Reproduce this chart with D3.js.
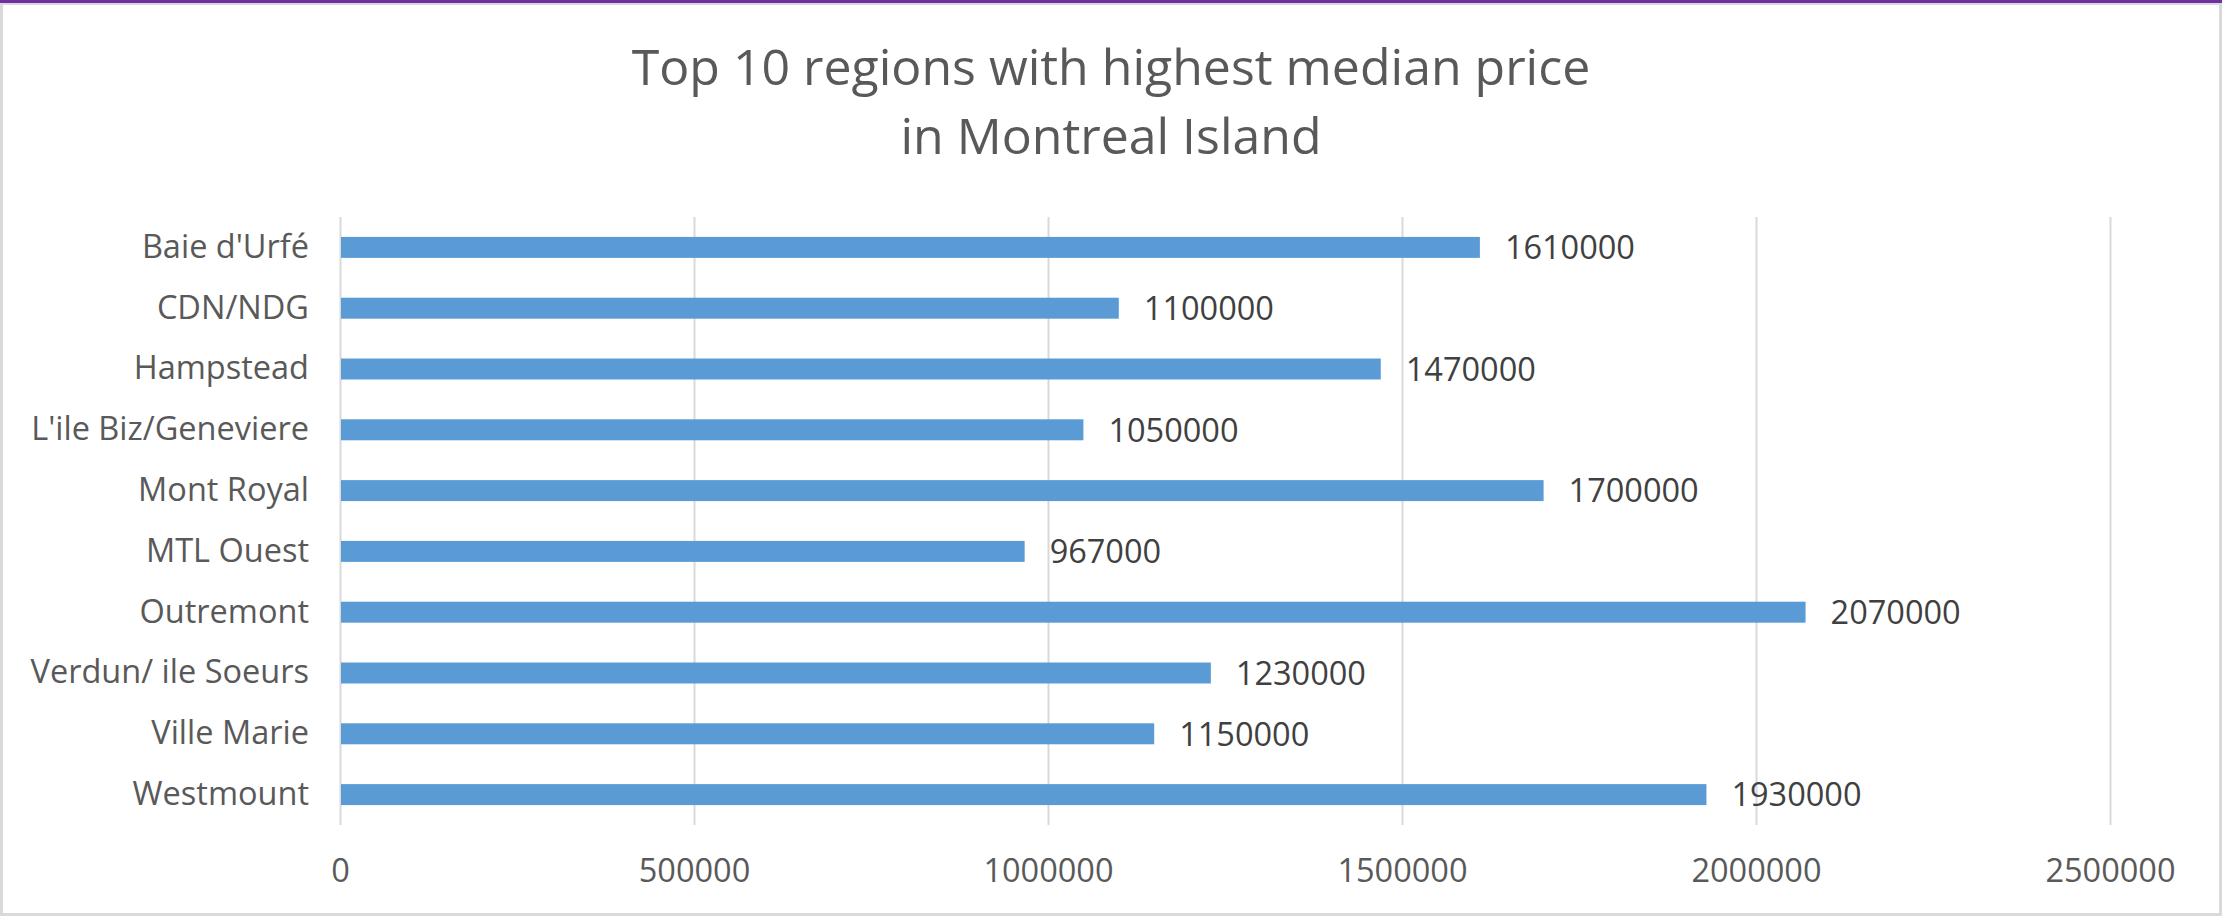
<!DOCTYPE html>
<html>
<head>
<meta charset="utf-8">
<script src="https://cdn.jsdelivr.net/npm/d3@7"></script>
<style>
  html, body { margin: 0; padding: 0; background: #ffffff; }
  svg { display: block; }
  text { font-family: "Open Sans", "Noto Sans", sans-serif; }
</style>
</head>
<body>
<svg id="chart" width="2222" height="916"></svg>
<script>
const categories = ["Baie d'Urfé", "CDN/NDG", "Hampstead", "L'ile Biz/Geneviere", "Mont Royal",
  "MTL Ouest", "Outremont", "Verdun/ ile Soeurs", "Ville Marie", "Westmount"];
const medianPrice = [1610000, 1100000, 1470000, 1050000, 1700000, 967000, 2070000, 1230000, 1150000, 1930000];
const xTicks = [0, 500000, 1000000, 1500000, 2000000, 2500000];
const titleLines = ["Top 10 regions with highest median price", "in Montreal Island"];

const W = 2222, H = 916;
const svg = d3.select("#chart");

// chart frame
svg.append("rect").attr("x", 1.5).attr("y", 3.5).attr("width", W - 3).attr("height", H - 5)
  .attr("fill", "#ffffff").attr("stroke", "#d9d9d9").attr("stroke-width", 3);
svg.append("rect").attr("x", 0).attr("y", 0).attr("width", W).attr("height", 3).attr("fill", "#7030a0");

const plot = { left: 340, right: 2110, top: 217, bottom: 825 };

const x = d3.scaleLinear().domain([0, 2500000]).range([plot.left, plot.right]);
const y = d3.scaleBand().domain(categories).range([plot.top, plot.bottom])
  .paddingInner(0.655).paddingOuter(0.3275);

// x axis with gridlines
const xAxis = d3.axisBottom(x).tickValues(xTicks).tickFormat(d3.format("d"))
  .tickSizeInner(-(plot.bottom - plot.top)).tickSizeOuter(0).tickPadding(34);
const gx = svg.append("g").attr("transform", `translate(0,${plot.bottom})`).call(xAxis);
gx.select(".domain").remove();
gx.selectAll(".tick line").attr("stroke", "#d9d9d9").attr("stroke-width", 2);
gx.selectAll(".tick text").attr("fill", "#595959").attr("font-size", 32.5)
  .attr("font-family", "'Open Sans', sans-serif");

// y axis labels
const yAxis = d3.axisLeft(y).tickSize(0).tickPadding(31);
const gy = svg.append("g").attr("transform", `translate(${plot.left},0)`).call(yAxis);
gy.select(".domain").remove();
gy.selectAll(".tick text").attr("fill", "#595959").attr("font-size", 32.5)
  .attr("font-family", "'Open Sans', sans-serif");

const data = categories.map((c, i) => ({ c, v: medianPrice[i] }));

// bars
svg.append("g").selectAll("rect").data(data).join("rect")
  .attr("x", x(0) + 1)
  .attr("y", d => y(d.c))
  .attr("width", d => x(d.v) - x(0) - 1)
  .attr("height", y.bandwidth())
  .attr("fill", "#5b9bd5");

// value labels
svg.append("g").selectAll("text").data(data).join("text")
  .attr("x", d => x(d.v) + 25)
  .attr("y", d => y(d.c) + y.bandwidth() / 2)
  .attr("dy", "0.36em")
  .attr("font-size", 32.5)
  .attr("fill", "#404040")
  .text(d => d.v);

// title
svg.append("g").selectAll("text").data(titleLines).join("text")
  .attr("x", W / 2)
  .attr("y", (d, i) => 85 + i * 69)
  .attr("text-anchor", "middle")
  .attr("font-size", 50)
  .attr("fill", "#595959")
  .text(d => d);
</script>
</body>
</html>
